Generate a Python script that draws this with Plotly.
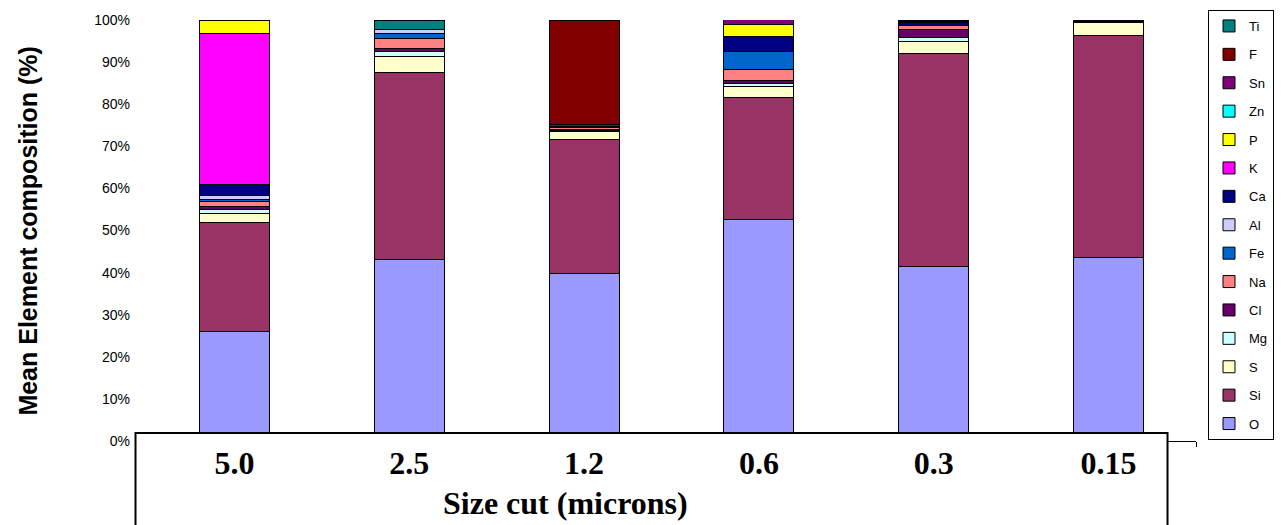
import plotly.graph_objects as go

categories = ["5.0", "2.5", "1.2", "0.6", "0.3", "0.15"]

elements = ["O", "Si", "S", "Mg", "Cl", "Na", "Fe", "Al", "Ca", "K", "P", "Zn", "Sn", "F", "Ti"]

O  = [25.9, 43.2, 39.7, 52.5, 41.4, 43.5]
Si = [26.1, 44.4, 31.8, 29.1, 50.6, 52.9]
S  = [2.0, 3.7, 1.9, 2.6, 2.8, 3.0]
Mg = [1.0, 1.3, 0.3, 0.8, 1.1, 0.0]
Cl = [0.8, 0.6, 0.4, 0.7, 1.9, 0.0]
Na = [1.2, 2.4, 0.3, 2.5, 1.0, 0.3]
Fe = [0.3, 1.1, 0.0, 4.4, 0.0, 0.0]
Al = [1.0, 1.1, 0.3, 0.0, 0.0, 0.0]
Ca = [2.7, 0.0, 0.0, 3.5, 0.5, 0.0]
K  = [35.7, 0.0, 0.0, 0.0, 0.0, 0.0]
P  = [3.3, 0.0, 0.0, 2.8, 0.0, 0.0]
Zn = [0.0, 0.0, 0.0, 0.0, 0.0, 0.0]
Sn = [0.0, 0.0, 0.4, 1.2, 0.3, 0.0]
F  = [0.0, 0.0, 24.9, 0.0, 0.0, 0.3]
Ti = [0.0, 2.2, 0.0, 0.0, 0.4, 0.0]

series = {"O": O, "Si": Si, "S": S, "Mg": Mg, "Cl": Cl, "Na": Na, "Fe": Fe, "Al": Al,
          "Ca": Ca, "K": K, "P": P, "Zn": Zn, "Sn": Sn, "F": F, "Ti": Ti}

colors = {"O": "#9999FF", "Si": "#993366", "S": "#FFFFCC", "Mg": "#CCFFFF", "Cl": "#660066",
          "Na": "#FF8080", "Fe": "#0066CC", "Al": "#CCCCFF", "Ca": "#000080", "K": "#FF00FF",
          "P": "#FFFF00", "Zn": "#00FFFF", "Sn": "#800080", "F": "#800000", "Ti": "#008080"}

y_title = "Mean Element composition (%)"
x_title = "Size cut (microns)"

W, H = 1281, 525
L, R, T, B = 146.5, 1196.5, 20, 441

fig = go.Figure()
for i, el in enumerate(elements):
    fig.add_trace(go.Bar(
        x=categories, y=series[el], name=el, legendgroup=el, legendrank=1000 - i,
        marker=dict(color=colors[el], line=dict(color="black", width=1)),
    ))

def px(xp):
    return (xp - L) / (R - L)

def py(yp):
    return (B - yp) / (B - T)

fig.update_layout(
    width=W, height=H,
    margin=dict(l=L, r=W - R, t=T, b=H - B, pad=0, autoexpand=False),
    barmode="stack", bargap=0.6,
    plot_bgcolor="white", paper_bgcolor="white",
    font=dict(family="Liberation Sans, Arial", color="black"),
    showlegend=True,
    legend=dict(
        traceorder="grouped", tracegroupgap=8.5,
        xref="container", yref="container",
        x=1208 / W, y=1 - 10 / H, xanchor="left", yanchor="top",
        maxheight=510,
        bordercolor="black", borderwidth=1, bgcolor="white",
        font=dict(family="Liberation Sans, Arial", size=13, color="black"),
    ),
    xaxis=dict(
        type="category", range=[-0.5, 5.5],
        showline=True, linecolor="black", linewidth=1,
        ticks="outside", tickson="boundaries", ticklen=5, tickcolor="black",
        tickfont=dict(family="Liberation Serif, Times New Roman", size=32, color="black"),
        ticklabelstandoff=-6,
        showgrid=False,
    ),
    yaxis=dict(
        range=[0, 100], dtick=10, ticksuffix="%",
        showline=False, showgrid=False, zeroline=False,
        tickfont=dict(family="Liberation Sans, Arial", size=14, color="black"),
        ticks="", ticklabelstandoff=16,
    ),
    shapes=[
        dict(type="rect", xref="paper", yref="paper", layer="above",
             x0=px(135), x1=px(1168), y0=py(448), y1=py(433),
             fillcolor="white", line=dict(width=0)),
        dict(type="rect", xref="paper", yref="paper", layer="above",
             x0=px(135), x1=px(1168), y0=py(540), y1=py(433),
             fillcolor="rgba(0,0,0,0)", line=dict(color="black", width=2)),
    ],
    annotations=[
        dict(text="<b>" + y_title + "</b>", xref="paper", yref="paper",
             x=px(27), y=py(231), xanchor="center", yanchor="middle", textangle=-90,
             showarrow=False, font=dict(family="Liberation Sans, Arial", size=25, color="black")),
        dict(text="<b>" + x_title + "</b>", xref="paper", yref="paper",
             x=px(565), y=py(503), xanchor="center", yanchor="middle",
             showarrow=False, font=dict(family="Liberation Serif, Times New Roman", size=32, color="black")),
    ],
)
fig.update_xaxes(tickprefix="<b>", ticksuffix="</b>")

fig.write_html("out.html", config={"displayModeBar": False},
               post_script="document.body.style.margin='0';")
